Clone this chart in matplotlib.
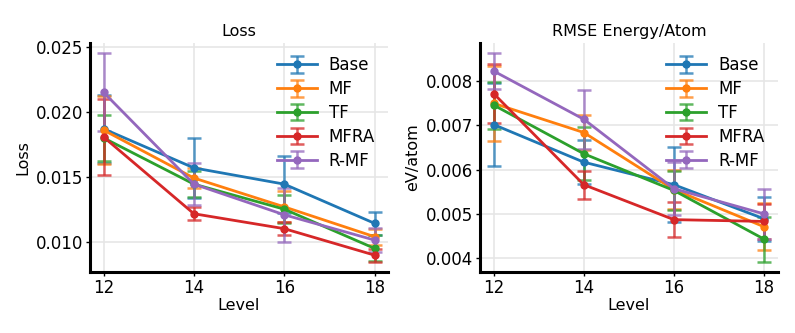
import matplotlib
matplotlib.use("Agg")
import matplotlib.pyplot as plt

levels = [12, 14, 16, 18]
models = ["Base", "MF", "TF", "MFRA", "R-MF"]
colors = ["#1f77b4", "#ff7f0e", "#2ca02c", "#d62728", "#9467bd"]

# loss mean / std per model
loss_mean = {
    "Base": [0.0187, 0.01569, 0.01444, 0.01142],
    "MF": [0.0186, 0.01491, 0.01269, 0.01039],
    "TF": [0.0180, 0.01444, 0.01251, 0.00949],
    "MFRA": [0.01807, 0.01216, 0.01101, 0.00897],
    "R-MF": [0.02151, 0.01444, 0.01208, 0.01013],
}
loss_std = {
    "Base": [0.0026, 0.0023, 0.0022, 0.0009],
    "MF": [0.0026, 0.0008, 0.0012, 0.0006],
    "TF": [0.0018, 0.0010, 0.0011, 0.0010],
    "MFRA": [0.0029, 0.0005, 0.0005, 0.0005],
    "R-MF": [0.0030, 0.0016, 0.0021, 0.0009],
}

# energy rmse mean / std per model
rmse_mean = {
    "Base": [0.00702, 0.00617, 0.00566, 0.00489],
    "MF": [0.00750, 0.00684, 0.00555, 0.00471],
    "TF": [0.00746, 0.00636, 0.00553, 0.00443],
    "MFRA": [0.00772, 0.00566, 0.00487, 0.00483],
    "R-MF": [0.00823, 0.00714, 0.00557, 0.00500],
}
rmse_std = {
    "Base": [0.00093, 0.00050, 0.00085, 0.00050],
    "MF": [0.00085, 0.00040, 0.00045, 0.00053],
    "TF": [0.00053, 0.00060, 0.00045, 0.00051],
    "MFRA": [0.00066, 0.00032, 0.00040, 0.00040],
    "R-MF": [0.00040, 0.00067, 0.00060, 0.00056],
}

FS = 12


def draw_panel(ax, means, stds, title, ylabel):
    for name, c in zip(models, colors):
        line, caps, bars = ax.errorbar(levels, means[name], yerr=stds[name], color=c,
                                       label=name, marker="o", markersize=5, linewidth=2,
                                       elinewidth=1.8, capsize=5, capthick=1.8)
        for art in list(caps) + list(bars):
            art.set_alpha(0.75)
    ax.set_title(title, fontsize=FS - 0.5, pad=5)
    ax.set_xlabel("Level", fontsize=FS - 0.5, labelpad=1)
    ax.set_ylabel(ylabel, fontsize=FS - 0.5, labelpad=4)
    ax.set_xticks(levels)
    ax.tick_params(labelsize=FS, length=3, width=1, pad=2)
    ax.grid(True, color="#e6e6e6", linewidth=1.2)
    ax.set_axisbelow(True)
    for s in ["top", "right"]:
        ax.spines[s].set_visible(False)
    for s in ["left", "bottom"]:
        ax.spines[s].set_linewidth(2.2)
        ax.spines[s].set_color("black")
    ax.legend(loc="upper right", frameon=False, fontsize=FS,
              handlelength=2.4, borderaxespad=0.4, labelspacing=0.35, handletextpad=0.7)


fig = plt.figure(figsize=(7.95, 3.33), dpi=100)
ax1 = fig.add_axes([0.1132, 0.183, 0.375, 0.688])
ax2 = fig.add_axes([0.604, 0.183, 0.374, 0.688])

draw_panel(ax1, loss_mean, loss_std, "Loss", "Loss")
ax1.set_yticks([0.010, 0.015, 0.020, 0.025])
draw_panel(ax2, rmse_mean, rmse_std, "RMSE Energy/Atom", "eV/atom")
ax2.set_yticks([0.004, 0.005, 0.006, 0.007, 0.008])

fig.savefig("out.png", dpi=100)
